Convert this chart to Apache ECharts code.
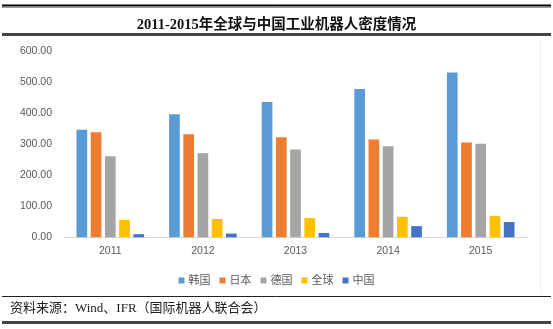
<!DOCTYPE html>
<html>
<head>
<meta charset="utf-8">
<script src="https://cdn.jsdelivr.net/npm/echarts@6/dist/echarts.min.js"></script>
<style>
html,body{margin:0;padding:0;background:#fff;}
#chart{width:553px;height:329px;}
</style>
</head>
<body>
<div id="chart"></div>
<script>
const titleText = '2011-2015年全球与中国工业机器人密度情况';
const sourceText = '资料来源：Wind、IFR（国际机器人联合会）';
const categories = ['2011', '2012', '2013', '2014', '2015'];
const seriesNames = ['韩国', '日本', '德国', '全球', '中国'];
const korea = [346, 396, 436, 478, 531];
const japan = [338, 332, 322, 315, 305];
const germany = [261, 271, 283, 293, 301];
const world = [56, 59, 62, 66, 69];
const china = [10, 12, 14, 36, 49];
const yMin = 0, yMax = 600, yStep = 100;

const colors = ['#5B9BD5', '#ED7D31', '#A5A5A5', '#FFC000', '#4472C4'];
const values = [korea, japan, germany, world, china];

const chart = echarts.init(document.getElementById('chart'), null, {renderer: 'canvas'});
const serif = "'Liberation Serif','Times New Roman','Noto Sans CJK SC',serif";
const sans = "'Liberation Sans','Noto Sans CJK SC',sans-serif";

chart.setOption({
  animation: false,
  backgroundColor: '#fff',
  color: colors,
  title: {
    text: titleText,
    left: 'center',
    top: 13,
    textStyle: {fontFamily: serif, fontSize: 14.5, fontWeight: 'bold', color: '#111'}
  },
  legend: {
    data: seriesNames,
    left: 'center',
    top: 270,
    icon: 'rect',
    itemWidth: 6,
    itemHeight: 6,
    itemGap: 9,
    textStyle: {fontFamily: sans, fontSize: 11, color: '#595959', padding: [0, 0, 0, -1]}
  },
  grid: {left: 64, right: 26, top: 51, bottom: 91.7, containLabel: false},
  xAxis: {
    type: 'category',
    data: categories,
    axisLine: {lineStyle: {color: '#D9D9D9', width: 1}},
    axisTick: {show: false},
    axisLabel: {fontFamily: sans, fontSize: 10.5, color: '#595959', margin: 9}
  },
  yAxis: {
    type: 'value',
    min: yMin, max: yMax, interval: yStep,
    splitLine: {show: false},
    axisLine: {show: false},
    axisTick: {show: false},
    axisLabel: {fontFamily: sans, fontSize: 10.5, color: '#595959', margin: 12,
      formatter: v => v.toFixed(2)}
  },
  series: seriesNames.map((n, i) => ({
    name: n,
    type: 'bar',
    data: values[i],
    barGap: '33%',
    barCategoryGap: '27%',
    itemStyle: {color: colors[i]}
  })),
  graphic: [
    {type: 'line', shape: {x1: 2, y1: 5.5, x2: 551, y2: 5.5}, style: {stroke: '#000', lineWidth: 2}},
    {type: 'line', shape: {x1: 2, y1: 7.5, x2: 551, y2: 7.5}, style: {stroke: '#999', lineWidth: 1}},
    {type: 'line', shape: {x1: 2, y1: 34.5, x2: 551, y2: 34.5}, style: {stroke: '#444', lineWidth: 3}},
    {type: 'line', shape: {x1: 540.5, y1: 38, x2: 540.5, y2: 294}, style: {stroke: '#EFEFEF', lineWidth: 1}},
    {type: 'line', shape: {x1: 2, y1: 296.5, x2: 551, y2: 296.5}, style: {stroke: '#222', lineWidth: 1}},
    {type: 'line', shape: {x1: 2, y1: 322.5, x2: 551, y2: 322.5}, style: {stroke: '#444', lineWidth: 3}},
    {type: 'text', x: 10, y: 309, style: {text: sourceText, font: "13px " + serif, fill: '#222', verticalAlign: 'middle'}}
  ]
});
</script>
</body>
</html>
